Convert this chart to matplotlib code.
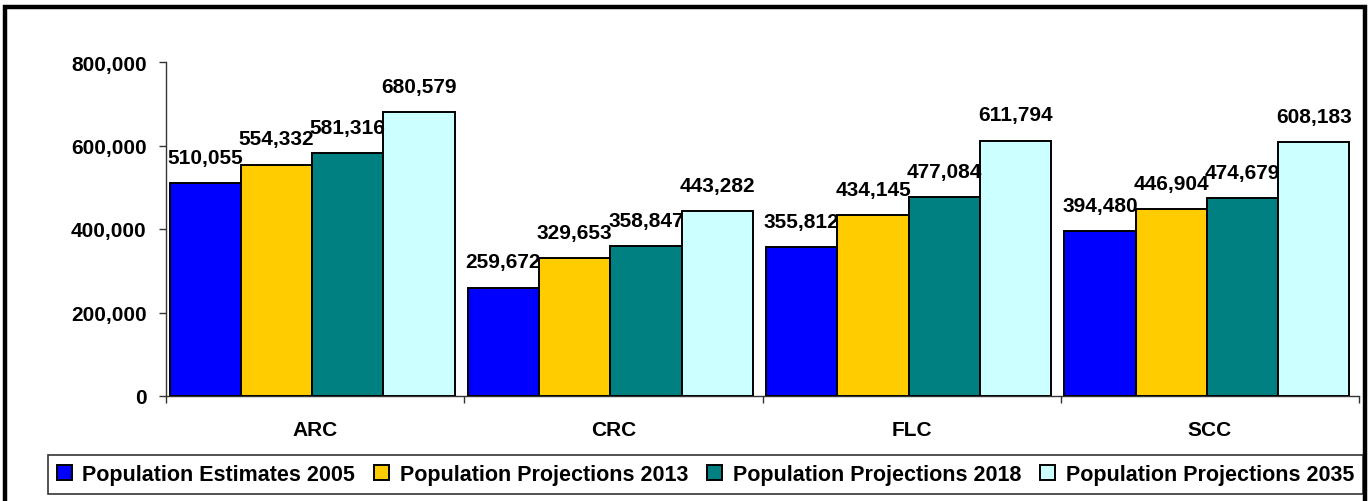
import matplotlib
matplotlib.use("Agg")
import matplotlib.pyplot as plt
import numpy as np
from matplotlib.patches import Rectangle
from matplotlib.ticker import FuncFormatter, FixedLocator

categories = ["ARC", "CRC", "FLC", "SCC"]
series_names = ["Population Estimates 2005", "Population Projections 2013",
                "Population Projections 2018", "Population Projections 2035"]
est_2005 = [510055, 259672, 355812, 394480]
proj_2013 = [554332, 329653, 434145, 446904]
proj_2018 = [581316, 358847, 477084, 474679]
proj_2035 = [680579, 443282, 611794, 608183]
colors = ["#0000FF", "#FFCC00", "#008080", "#CCFFFF"]
y_ticks = [0, 200000, 400000, 600000, 800000]

plt.rcParams['font.family'] = ['Liberation Sans', 'DejaVu Sans']
plt.rcParams['font.weight'] = 'bold'

W, H = 1369, 502
fig = plt.figure(figsize=(W / 100, H / 100), dpi=100)
ax = fig.add_axes([166 / W, (H - 397) / H, (1359 - 166) / W, (397 - 63) / H])

series = [est_2005, proj_2013, proj_2018, proj_2035]
n = len(series)
bw = 0.239
x = np.arange(len(categories))
handles = []
for i, (vals, col, name) in enumerate(zip(series, colors, series_names)):
    pos = x - 0.01 - bw * n / 2 + bw * (i + 0.5)
    b = ax.bar(pos, vals, width=bw, color=col, edgecolor='black', linewidth=1.4,
               label=name, zorder=3)
    handles.append(b)
    for p, v in zip(pos, vals):
        ax.annotate(f"{v:,}", (p, v), xytext=(0, 14.5), textcoords='offset points',
                    ha='center', va='baseline', fontsize=15, fontweight='bold', zorder=5)

ax.set_xlim(-0.5, len(categories) - 0.5)
ax.set_ylim(0, 800000)
ax.set_yticks(y_ticks)
ax.yaxis.set_major_formatter(FuncFormatter(lambda v, _: f"{int(v):,}"))
ax.tick_params(axis='y', labelsize=15, length=5, width=1, color='#333333', pad=9)
ax.set_xticks(x)
ax.set_xticklabels(categories)
ax.tick_params(axis='x', which='major', length=0, labelsize=15, pad=17)
ax.xaxis.set_minor_locator(FixedLocator(np.arange(-0.5, len(categories), 1.0)))
ax.tick_params(axis='x', which='minor', length=5, width=1, color='#333333')
for lab in ax.get_xticklabels() + ax.get_yticklabels():
    lab.set_fontweight('bold')
for s in ['top', 'right']:
    ax.spines[s].set_visible(False)
for s in ['left', 'bottom']:
    ax.spines[s].set_color('#333333')
    ax.spines[s].set_linewidth(1)

leg = fig.legend(handles=handles, labels=series_names, loc='center',
                 bbox_to_anchor=(48 / W, (H - 497) / H, (1363 - 48) / W, 43 / H),
                 mode='expand', ncol=4, frameon=True,
                 fancybox=False, edgecolor='black',
                 handlelength=0.7, handleheight=0.7, handletextpad=0.5,
                 columnspacing=0.5, borderpad=0.4, borderaxespad=0,
                 prop={'weight': 'bold', 'size': 15.5})
leg.get_frame().set_linewidth(1.2)

fig.patches.append(Rectangle((5.5 / W, -20 / H), (1365 - 5.5) / W, (H + 20 - 7.5) / H,
                             transform=fig.transFigure, fill=False,
                             edgecolor='black', linewidth=3.2, clip_on=False))

fig.savefig("out.png", dpi=100)
